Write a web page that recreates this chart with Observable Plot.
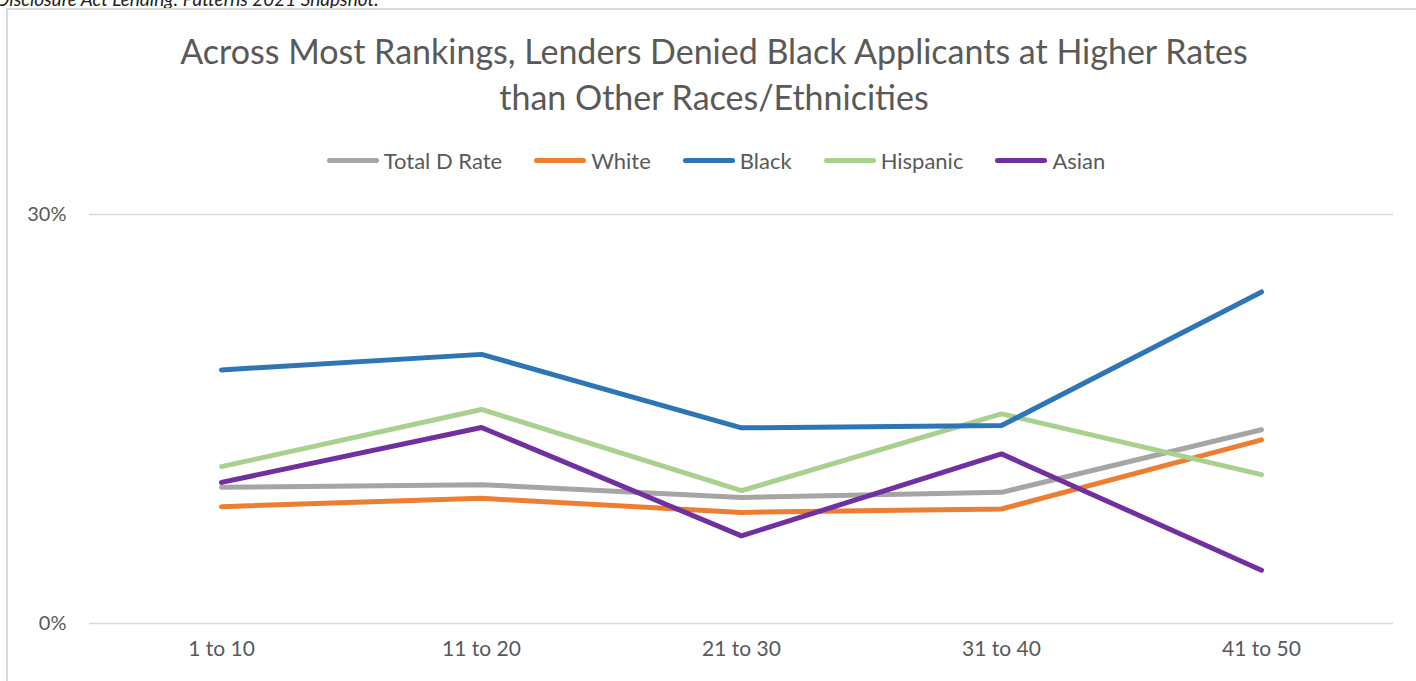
<!DOCTYPE html>
<html>
<head>
<meta charset="utf-8">
<script src="https://cdn.jsdelivr.net/npm/d3@7"></script>
<script src="https://cdn.jsdelivr.net/npm/@observablehq/plot@0.6"></script>
<style>
  html, body { margin: 0; padding: 0; background: #fff; overflow: hidden; width: 1416px; height: 681px; }
  body { position: relative; font-family: Lato, "Open Sans", sans-serif; color: #595959; }
  #source { position: absolute; left: -4px; top: -13px; font-size: 19px; font-style: italic; color: #222; white-space: nowrap; }
  #frame { position: absolute; left: 6px; top: 8px; width: 1440px; height: 700px; border: 2px solid #d9d9d9; box-sizing: border-box; }
  #title { position: absolute; left: 7px; width: 1414px; top: 28px; text-align: center; font-size: 34px; line-height: 46px; color: #595959; }
  #legend { position: absolute; left: 9px; width: 1414px; top: 147px; display: flex; justify-content: center; gap: 32px; font-size: 22px; color: #595959; }
  .item { display: flex; align-items: center; gap: 5px; }
  .sw { width: 52px; height: 5px; border-radius: 3px; }
  #chart { position: absolute; left: 0; top: 190px; }
</style>
</head>
<body>
<div id="source">Disclosure Act Lending: Patterns 2021 Snapshot.</div>
<div id="frame"></div>
<div id="title">Across Most Rankings, Lenders Denied Black Applicants at Higher Rates<br>than Other Races/Ethnicities</div>
<div id="legend"></div>
<div id="chart"></div>
<script>
const categories = ["1 to 10", "11 to 20", "21 to 30", "31 to 40", "41 to 50"];
const seriesNames = ["Total D Rate", "White", "Black", "Hispanic", "Asian"];
const seriesColors = ["#A5A5A5", "#ED7D31", "#2E75B6", "#A9D18E", "#7030A0"];
const totalRate = [0.0999, 0.1018, 0.0925, 0.0962, 0.1421];
const whiteRate = [0.0857, 0.0918, 0.0815, 0.0840, 0.1347];
const blackRate = [0.1860, 0.1974, 0.1435, 0.1452, 0.2432];
const hispanicRate = [0.1151, 0.1570, 0.0974, 0.1538, 0.1092];
const asianRate = [0.1035, 0.1438, 0.0643, 0.1244, 0.0391];
const yTicks = [0, 0.3];

const valuesBySeries = {
  "Total D Rate": totalRate,
  "White": whiteRate,
  "Black": blackRate,
  "Hispanic": hispanicRate,
  "Asian": asianRate
};
const drawOrder = ["Total D Rate", "White", "Hispanic", "Asian", "Black"];
const rows = [];
for (const s of drawOrder) {
  valuesBySeries[s].forEach((v, i) => rows.push({series: s, category: categories[i], value: v}));
}

// legend
const legend = document.getElementById("legend");
seriesNames.forEach((s, i) => {
  const it = document.createElement("div");
  it.className = "item";
  const sw = document.createElement("div");
  sw.className = "sw";
  sw.style.background = seriesColors[i];
  const t = document.createElement("span");
  t.textContent = s;
  it.appendChild(sw); it.appendChild(t);
  legend.appendChild(it);
});

const chart = Plot.plot({
  width: 1416,
  height: 491,
  marginLeft: 89,
  marginRight: 23,
  marginTop: 24,
  marginBottom: 58,
  style: {fontFamily: "Lato, 'Open Sans', sans-serif", fontSize: "20px", color: "#595959", background: "transparent"},
  x: {type: "point", domain: categories, padding: 0.5, label: null},
  y: {domain: [0, 0.3], label: null},
  color: {domain: seriesNames, range: seriesColors},
  marks: [
    Plot.ruleY(yTicks, {stroke: "#d9d9d9", strokeWidth: 1.5}),
    Plot.axisY(yTicks, {tickSize: 0, tickPadding: 23, tickFormat: d3.format(".0%"), label: null, fill: "#595959", fontSize: 20}),
    Plot.axisX({tickSize: 0, tickPadding: 18, label: null, fill: "#595959", fontSize: 21}),
    Plot.line(rows, {x: "category", y: "value", z: "series", stroke: "series", strokeWidth: 5, strokeLinecap: "round", strokeLinejoin: "miter"})
  ]
});
document.getElementById("chart").appendChild(chart);
</script>
</body>
</html>
